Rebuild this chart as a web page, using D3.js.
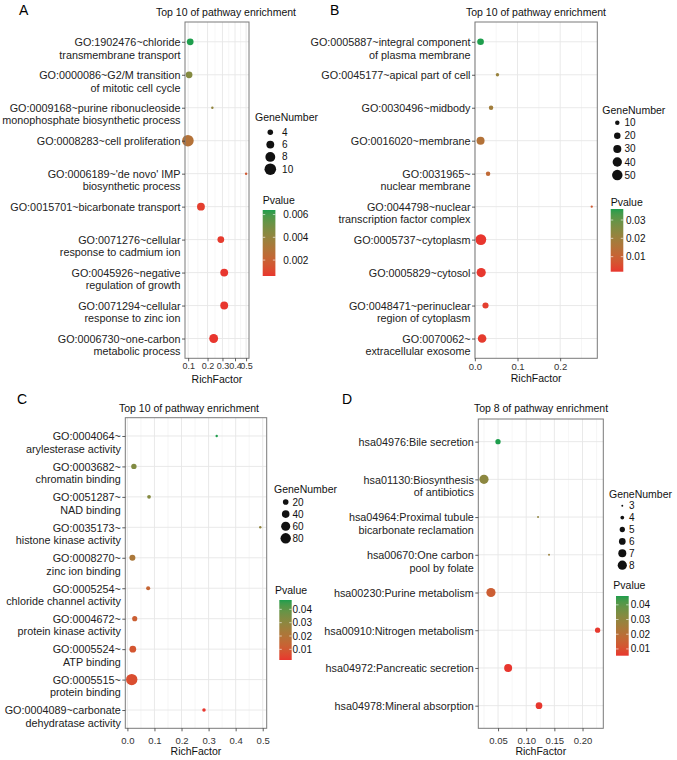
<!DOCTYPE html>
<html><head><meta charset="utf-8">
<script src="https://cdn.jsdelivr.net/npm/d3@7"></script>
<style>
body{margin:0;background:#fff}
svg{display:block;font-family:"Liberation Sans",Arial,Helvetica,sans-serif}
</style>
</head><body>
<svg id="chart" width="677" height="760"></svg>
<script>
// ---------------- DATA ----------------
const termsA = [
 "GO:1902476~chloride\ntransmembrane transport",
 "GO:0000086~G2/M transition\nof mitotic cell cycle",
 "GO:0009168~purine ribonucleoside\nmonophosphate biosynthetic process",
 "GO:0008283~cell proliferation",
 "GO:0006189~'de novo' IMP\nbiosynthetic process",
 "GO:0015701~bicarbonate transport",
 "GO:0071276~cellular\nresponse to cadmium ion",
 "GO:0045926~negative\nregulation of growth",
 "GO:0071294~cellular\nresponse to zinc ion",
 "GO:0006730~one-carbon\nmetabolic process"];
const richFactorA = [0.109, 0.104, 0.23, 0.099, 0.5, 0.162, 0.288, 0.313, 0.313, 0.2385];
const geneNumberA = [5, 5, 2, 10, 2, 6, 5, 6, 6, 7];
const pValueA = [0.0064, 0.0045, 0.0041, 0.0028, 0.0016, 0.0008, 0.0007, 0.0006, 0.0006, 0.0006];

const termsB = [
 "GO:0005887~integral component\nof plasma membrane",
 "GO:0045177~apical part of cell",
 "GO:0030496~midbody",
 "GO:0016020~membrane",
 "GO:0031965~\nnuclear membrane",
 "GO:0044798~nuclear\ntranscription factor complex",
 "GO:0005737~cytoplasm",
 "GO:0005829~cytosol",
 "GO:0048471~perinuclear\nregion of cytoplasm",
 "GO:0070062~\nextracellular exosome"];
const richFactorB = [0.0134, 0.053, 0.038, 0.0134, 0.031, 0.274, 0.0141, 0.0149, 0.025, 0.017];
const geneNumberB = [21, 6, 10, 30, 10, 3, 53, 39, 18, 34];
const pValueB = [0.036, 0.021, 0.019, 0.015, 0.012, 0.008, 0.0018, 0.002, 0.003, 0.0025];

const termsC = [
 "GO:0004064~\narylesterase activity",
 "GO:0003682~\nchromatin binding",
 "GO:0051287~\nNAD binding",
 "GO:0035173~\nhistone kinase activity",
 "GO:0008270~\nzinc ion binding",
 "GO:0005254~\nchloride channel activity",
 "GO:0004672~\nprotein kinase activity",
 "GO:0005524~\nATP binding",
 "GO:0005515~\nprotein binding",
 "GO:0004089~carbonate\ndehydratase activity"];
const richFactorC = [0.33, 0.024, 0.08, 0.491, 0.0185, 0.0767, 0.027, 0.02, 0.016, 0.283];
const geneNumberC = [2, 18, 7, 2, 23, 9, 16, 30, 98, 6];
const pValueC = [0.047, 0.033, 0.032, 0.029, 0.022, 0.014, 0.012, 0.009, 0.007, 0.002];

const termsD = [
 "hsa04976:Bile secretion",
 "hsa01130:Biosynthesis\nof antibiotics",
 "hsa04964:Proximal tubule\nbicarbonate reclamation",
 "hsa00670:One carbon\npool by folate",
 "hsa00230:Purine metabolism",
 "hsa00910:Nitrogen metabolism",
 "hsa04972:Pancreatic secretion",
 "hsa04978:Mineral absorption"];
const richFactorD = [0.0499, 0.025, 0.121, 0.1405, 0.0374, 0.2268, 0.0679, 0.1227];
const geneNumberD = [5, 8, 3, 3, 8, 5, 7, 6];
const pValueD = [0.046, 0.031, 0.030, 0.028, 0.014, 0.0058, 0.0054, 0.0056];

const xTicksA = [0.1, 0.2, 0.3, 0.4, 0.5];
const xTicksB = [0.0, 0.1, 0.2];
const xTicksC = [0.0, 0.1, 0.2, 0.3, 0.4, 0.5];
const xTicksD = [0.05, 0.10, 0.15, 0.20];
const sizeBreaksA = [4, 6, 8, 10];
const sizeBreaksB = [10, 20, 30, 40, 50];
const sizeBreaksC = [20, 40, 60, 80];
const sizeBreaksD = [3, 4, 5, 6, 7, 8];
const pTicksA = [0.002, 0.004, 0.006];
const pTicksB = [0.01, 0.02, 0.03];
const pTicksC = [0.01, 0.02, 0.03, 0.04];
const pTicksD = [0.01, 0.02, 0.03, 0.04];
const titles = ["Top 10 of pathway enrichment", "Top 10 of pathway enrichment",
                "Top 10 of pathway enrichment", "Top 8 of pathway enrichment"];
const letters = ["A", "B", "C", "D"];

// ---------------- STYLE ----------------
const LOW = "#e8362e", HIGH = "#1e9e4d";
const svg = d3.select("#chart");
const defs = svg.append("defs");

function panel(o) {
  const [x0, x1, y0, y1] = o.box;
  const g = svg.append("g");
  const ext = d3.extent(o.rich);
  let x, tf, inv;
  if (o.sqrt) {
    const a = Math.sqrt(ext[0]), b = Math.sqrt(ext[1]), e = (b - a) * 0.05;
    x = d3.scaleSqrt().domain([(a - e) ** 2, (b + e) ** 2]).range([x0, x1]);
    tf = Math.sqrt; inv = v => v * v;
  } else {
    const e = (ext[1] - ext[0]) * 0.05;
    x = d3.scaleLinear().domain([ext[0] - e, ext[1] + e]).range([x0, x1]);
    tf = v => v; inv = v => v;
  }
  const y = d3.scalePoint().domain(o.terms).range([y0, y1]).padding(0.6);
  const pExt = d3.extent(o.p);
  const col = d3.scaleLinear().domain(pExt).range([LOW, HIGH]).interpolate(d3.interpolateLab);
  const gExt = d3.extent(o.genes);
  const sz = d3.scaleSqrt().domain(gExt).range([1, 6]);
  const k = o.dMax / (2.845 * 6 + 0.945);
  const rad = v => k * (2.845 * sz(v) + 0.945) / 2;

  // minor grid
  const tt = o.ticks.map(tf);
  const ext2 = [tt[0] - (tt[1] - tt[0]), ...tt, tt[tt.length - 1] + (tt[tt.length - 1] - tt[tt.length - 2])];
  const minors = [];
  for (let i = 0; i < ext2.length - 1; i++) minors.push(inv((ext2[i] + ext2[i + 1]) / 2));
  const dom = x.domain();
  g.selectAll(".mn").data(minors.filter(v => v > dom[0] && v < dom[1])).join("line")
    .attr("x1", d => x(d)).attr("x2", d => x(d)).attr("y1", y0).attr("y2", y1)
    .attr("stroke", "#ececec").attr("stroke-width", 0.5);
  g.selectAll(".mj").data(o.ticks).join("line")
    .attr("x1", d => x(d)).attr("x2", d => x(d)).attr("y1", y0).attr("y2", y1)
    .attr("stroke", "#e6e6e6").attr("stroke-width", 0.9);
  g.selectAll(".hy").data(o.terms).join("line")
    .attr("x1", x0).attr("x2", x1).attr("y1", d => y(d)).attr("y2", d => y(d))
    .attr("stroke", "#e6e6e6").attr("stroke-width", 0.9);

  // points
  g.selectAll(".pt").data(o.terms.map((t, i) => i)).join("circle")
    .attr("cx", i => x(o.rich[i])).attr("cy", i => y(o.terms[i]))
    .attr("r", i => rad(o.genes[i])).attr("fill", i => col(o.p[i]));

  // border
  g.append("rect").attr("x", x0).attr("y", y0).attr("width", x1 - x0).attr("height", y1 - y0)
    .attr("fill", "none").attr("stroke", "#7a7a7a").attr("stroke-width", 1);

  // x axis
  const xa = g.append("g").attr("transform", `translate(0,${y1})`)
    .call(d3.axisBottom(x).tickValues(o.ticks).tickFormat(d3.format(o.fmt)).tickSize(3).tickPadding(o.tickPad));
  xa.select(".domain").remove();
  xa.selectAll("line").attr("stroke", "#333").attr("stroke-width", 0.8);
  xa.selectAll("text").attr("font-size", o.tickFont).attr("fill", "#333").attr("font-family", null);

  // y axis
  const ya = g.append("g").attr("transform", `translate(${x0},0)`)
    .call(d3.axisLeft(y).tickSize(3).tickPadding(1.5));
  ya.select(".domain").remove();
  ya.selectAll("line").attr("stroke", "#333").attr("stroke-width", 0.8);
  ya.selectAll("text").attr("font-size", 10.8).attr("fill", "#222").attr("font-family", null)
    .each(function (d) {
      const t = d3.select(this);
      const xx = t.attr("x");
      t.text(null).attr("dy", null);
      d.split("\n").forEach((ln, i) => {
        t.append("tspan").attr("x", xx).attr("dy", i === 0 ? "0.35em" : "12.5").text(ln);
      });
    });

  // title & axis title
  g.append("text").attr("x", o.titleX).attr("y", o.titleY).attr("text-anchor", "middle")
    .attr("font-size", 10.5).attr("fill", "#111").text(o.title);
  g.append("text").attr("x", (x0 + x1) / 2).attr("y", o.xlabY).attr("text-anchor", "middle")
    .attr("font-size", 10.5).attr("fill", "#111").text("RichFactor");
  g.append("text").attr("x", o.letter[0]).attr("y", o.letter[1])
    .attr("font-size", 14).attr("fill", "#000").text(o.letterText);

  // size legend
  const L = o.sizeLeg;
  g.append("text").attr("x", L.tx).attr("y", L.ty).attr("font-size", 10.5).attr("fill", "#111").text("GeneNumber");
  const maxR = rad(d3.max(o.sizeBreaks));
  o.sizeBreaks.forEach((b, i) => {
    const cy = L.y + i * L.step;
    g.append("circle").attr("cx", L.cx).attr("cy", cy).attr("r", rad(b)).attr("fill", "#111");
    g.append("text").attr("x", L.cx + maxR + L.gap).attr("y", cy).attr("dy", "0.35em")
      .attr("font-size", 10).attr("fill", "#111").text(b);
  });

  // colour legend
  const C = o.colLeg;
  g.append("text").attr("x", C.tx).attr("y", C.ty).attr("font-size", 10.5).attr("fill", "#111").text("Pvalue");
  const gid = "grad" + o.letterText;
  const grad = defs.append("linearGradient").attr("id", gid).attr("x1", 0).attr("y1", 1).attr("x2", 0).attr("y2", 0);
  d3.range(0, 21).forEach(i => {
    grad.append("stop").attr("offset", i / 20).attr("stop-color", col(pExt[0] + (pExt[1] - pExt[0]) * i / 20));
  });
  g.append("rect").attr("x", C.bx).attr("y", C.top).attr("width", C.bw).attr("height", C.bottom - C.top)
    .attr("fill", `url(#${gid})`);
  const cy = d3.scaleLinear().domain(pExt).range([C.bottom, C.top]);
  o.pTicks.forEach(t => {
    const yy = cy(t);
    g.append("line").attr("x1", C.bx).attr("x2", C.bx + C.bw / 5).attr("y1", yy).attr("y2", yy)
      .attr("stroke", "#fff").attr("stroke-width", 0.6);
    g.append("line").attr("x1", C.bx + C.bw * 0.8).attr("x2", C.bx + C.bw).attr("y1", yy).attr("y2", yy)
      .attr("stroke", "#fff").attr("stroke-width", 0.6);
    g.append("text").attr("x", C.lx).attr("y", yy).attr("dy", "0.35em").attr("font-size", 10)
      .attr("fill", "#111").text(d3.format(o.pFmt)(t));
  });
}

panel({
  terms: termsA, rich: richFactorA, genes: geneNumberA, p: pValueA, sqrt: true,
  ticks: xTicksA, fmt: ".1f", sizeBreaks: sizeBreaksA, pTicks: pTicksA, pFmt: ".3f",
  box: [185, 249, 22, 358.3], dMax: 11.6, tickPad: 1.5, tickFont: 9, xlabY: 382.5,
  title: titles[0], titleX: 226, titleY: 15.5, letterText: letters[0], letter: [19, 15],
  sizeLeg: { tx: 255, ty: 120.5, cx: 270.3, y: 132.3, step: 12.3, gap: 6 },
  colLeg: { tx: 262.7, ty: 204.3, bx: 262.7, bw: 12.7, top: 210, bottom: 276, lx: 283.3 }
});
panel({
  terms: termsB, rich: richFactorB, genes: geneNumberB, p: pValueB, sqrt: false,
  ticks: xTicksB, fmt: ".1f", sizeBreaks: sizeBreaksB, pTicks: pTicksB, pFmt: ".2f",
  box: [475, 597.3, 22, 358.3], dMax: 10.8, tickPad: 2, tickFont: 9.5, xlabY: 382.3,
  title: titles[1], titleX: 536, titleY: 15.5, letterText: letters[1], letter: [330, 15],
  sizeLeg: { tx: 602.3, ty: 113.5, cx: 617.3, y: 122.7, step: 13.1, gap: 2 },
  colLeg: { tx: 610.7, ty: 206.3, bx: 610.7, bw: 12.6, top: 209, bottom: 271.7, lx: 626 }
});
panel({
  terms: termsC, rich: richFactorC, genes: geneNumberC, p: pValueC, sqrt: false,
  ticks: xTicksC, fmt: ".1f", sizeBreaks: sizeBreaksC, pTicks: pTicksC, pFmt: ".2f",
  box: [125.3, 266.7, 417.7, 728.3], dMax: 11.4, tickPad: 5.5, tickFont: 9.5, xlabY: 755,
  title: titles[2], titleX: 189, titleY: 411.5, letterText: letters[2], letter: [17, 404],
  sizeLeg: { tx: 274, ty: 492.7, cx: 285.7, y: 502, step: 12.1, gap: 1.5 },
  colLeg: { tx: 275, ty: 594, bx: 279.3, bw: 12.4, top: 600, bottom: 660, lx: 292.5 }
});
panel({
  terms: termsD, rich: richFactorD, genes: geneNumberD, p: pValueD, sqrt: false,
  ticks: xTicksD, fmt: ".2f", sizeBreaks: sizeBreaksD, pTicks: pTicksD, pFmt: ".2f",
  box: [478.3, 603.3, 419, 728.3], dMax: 9.2, tickPad: 5.5, tickFont: 9.5, xlabY: 755,
  title: titles[3], titleX: 541, titleY: 411.5, letterText: letters[3], letter: [342, 403.5],
  sizeLeg: { tx: 609, ty: 497.7, cx: 622.3, y: 505.7, step: 11.9, gap: 2 },
  colLeg: { tx: 613.3, ty: 589.3, bx: 616, bw: 12.7, top: 596, bottom: 655.7, lx: 630.7 }
});
</script>
</body></html>
